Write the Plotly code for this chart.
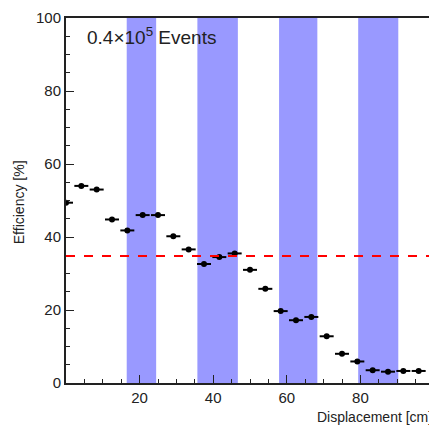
import plotly.graph_objects as go

# Data
displacement = [i * 25 / 6 for i in range(24)]
efficiency = [49.4, 54.0, 53.0, 44.8, 41.8, 46.0, 46.0, 40.2, 36.6, 32.6,
              34.5, 35.5, 31.0, 25.8, 19.7, 17.2, 18.1, 12.8, 8.0, 5.9,
              3.5, 3.1, 3.3, 3.3]
x_err = [1.9] * 24
band_starts = [16.5, 35.7, 57.9, 79.4]
band_ends = [24.5, 46.7, 68.3, 90.3]
threshold = 34.8
x_ticks = [20, 40, 60, 80]
y_ticks = [0, 20, 40, 60, 80, 100]

FONT = "Liberation Sans, Arial, sans-serif"

fig = go.Figure()

for s, e in zip(band_starts, band_ends):
    fig.add_shape(type="rect", xref="x", yref="y", x0=s, x1=e, y0=0, y1=100,
                  fillcolor="#9999ff", line=dict(width=0), layer="below")

fig.add_shape(type="line", xref="x", yref="y", x0=0, x1=100, y0=threshold, y1=threshold,
              line=dict(color="#ff0000", width=2, dash="dash"))

fig.add_trace(go.Scatter(
    x=displacement, y=efficiency, mode="markers",
    marker=dict(color="black", size=6),
    error_x=dict(type="data", array=x_err, color="black", thickness=2, width=0),
    cliponaxis=True, showlegend=False))

fig.add_annotation(xref="paper", yref="paper", x=0.051, y=0.951, xanchor="left", yanchor="middle",
                   text="0.4×10<sup>5</sup> Events", showarrow=False,
                   font=dict(family=FONT, size=19, color="#222"))
fig.add_annotation(xref="paper", yref="paper", x=1.0, y=-0.094, xanchor="right", yanchor="middle",
                   text="Displacement [cm]", showarrow=False,
                   font=dict(family=FONT, size=14, color="#222"))
fig.add_annotation(xref="paper", yref="paper", x=-0.128, y=0.495, xanchor="center", yanchor="middle",
                   text="Efficiency [%]", textangle=-90, showarrow=False,
                   font=dict(family=FONT, size=14, color="#222"))

axis_common = dict(showline=True, linecolor="#222", linewidth=2, mirror=True,
                   ticks="inside", ticklen=8, tickwidth=1, tickcolor="#222",
                   showgrid=False, zeroline=False, ticklabeloverflow="allow",
                   tickfont=dict(family=FONT, size=15, color="#222"))

fig.update_xaxes(range=[0, 100], tickvals=x_ticks,
                 minor=dict(ticks="inside", ticklen=4, dtick=5, tick0=0, tickcolor="#222"),
                 **axis_common)
fig.update_yaxes(range=[0, 100], tickvals=y_ticks,
                 minor=dict(ticks="inside", ticklen=4, dtick=5, tick0=0, tickcolor="#222"),
                 **axis_common)

# page body has an 8px margin: figure is placed at (8, 8)
fig.update_layout(width=429, height=418, margin=dict(l=58, r=1, t=4, b=43),
                  plot_bgcolor="white", paper_bgcolor="white")

fig.write_html("out.html")
